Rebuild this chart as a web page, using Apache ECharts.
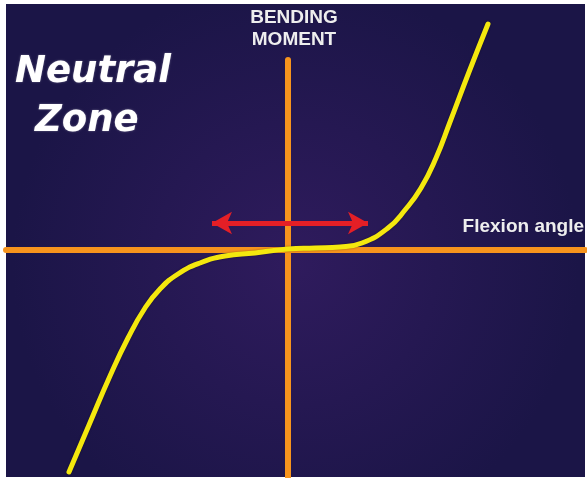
<!DOCTYPE html>
<html>
<head>
<meta charset="utf-8">
<script src="https://cdn.jsdelivr.net/npm/echarts@6/dist/echarts.min.js"></script>
<style>
  html, body { margin: 0; padding: 0; background: #fff; }
  #main { width: 587px; height: 478px; }
</style>
</head>
<body>
<div id="main"></div>
<script>
// curve (angle vs moment, origin at the axes crossing)
const angle  = [-219, -199, -178, -160, -143, -128, -110, -88, -63, -33, 0, 27, 52, 74, 100, 117, 133, 148, 162, 181, 200];
const moment = [-222, -175, -126, -88, -58, -39, -24, -13, -6, -3, 1, 2, 3, 7, 22, 40, 62, 92, 128, 178, 226];
// neutral zone arrow ends
const zoneFrom = [-76, 27];
const zoneTo = [80, 27];

const titleLines = ['Neutral', 'Zone'];
const yName = ['BENDING', 'MOMENT'];
const xName = 'Flexion angle';

const orange = '#f7941d';
const chart = echarts.init(document.getElementById('main'));

const titleFont = 'italic bold 37px "DejaVu Sans"';
const labelFont = 'bold 19px "Liberation Sans"';

chart.setOption({
  backgroundColor: '#ffffff',
  animation: false,
  grid: { left: 6, right: 2, top: 60, bottom: 1 },
  xAxis: {
    type: 'value', min: -282, max: 297,
    axisLine: { show: true, onZero: true, lineStyle: { color: orange, width: 6 } },
    axisTick: { show: false }, axisLabel: { show: false }, splitLine: { show: false }
  },
  yAxis: {
    type: 'value', min: -227, max: 190,
    axisLine: { show: true, onZero: true, lineStyle: { color: orange, width: 6 } },
    axisTick: { show: false }, axisLabel: { show: false }, splitLine: { show: false }
  },
  graphic: [
    {
      type: 'rect', z: -10, silent: true,
      shape: { x: 6, y: 4, width: 579, height: 473 },
      style: {
        fill: new echarts.graphic.RadialGradient(0.5, 0.55, 0.6, [
          { offset: 0, color: '#2f1b5d' },
          { offset: 1, color: '#1b1547' }
        ])
      }
    },
    {
      type: 'text', x: 15, y: 91, z: 10,
      style: {
        text: titleLines[0], fill: '#ffffff', font: titleFont, verticalAlign: 'bottom',
        textShadowColor: 'rgba(255,255,255,0.4)', textShadowBlur: 2
      }
    },
    {
      type: 'text', x: 35, y: 140, z: 10,
      style: {
        text: titleLines[1], fill: '#ffffff', font: titleFont, verticalAlign: 'bottom',
        textShadowColor: 'rgba(255,255,255,0.4)', textShadowBlur: 2
      }
    },
    {
      type: 'text', x: 294, y: 7, z: 10,
      style: {
        text: yName.join('\n'), fill: '#eeeeee', align: 'center',
        font: labelFont, lineHeight: 22
      }
    },
    {
      type: 'text', x: 584, y: 217, z: 10,
      style: {
        text: xName, fill: '#eeeeee', align: 'right', font: labelFont
      }
    }
  ],
  series: [
    {
      type: 'line', z: 3, clip: false,
      data: angle.map((a, i) => [a, moment[i]]),
      smooth: 0.5,
      symbol: 'none',
      lineStyle: { color: '#f4e80e', width: 5, cap: 'round',
        shadowColor: 'rgba(0,0,0,0.4)', shadowBlur: 2 }
    },
    {
      type: 'line', z: 1, data: [],
      markLine: {
        silent: true, animation: false,
        symbol: ['arrow', 'arrow'], symbolSize: [17, 20],
        label: { show: false },
        lineStyle: { color: '#e41f26', width: 5, type: 'solid' },
        emphasis: { disabled: true },
        data: [[{ coord: zoneFrom }, { coord: zoneTo }]]
      }
    }
  ]
});
</script>
</body>
</html>
